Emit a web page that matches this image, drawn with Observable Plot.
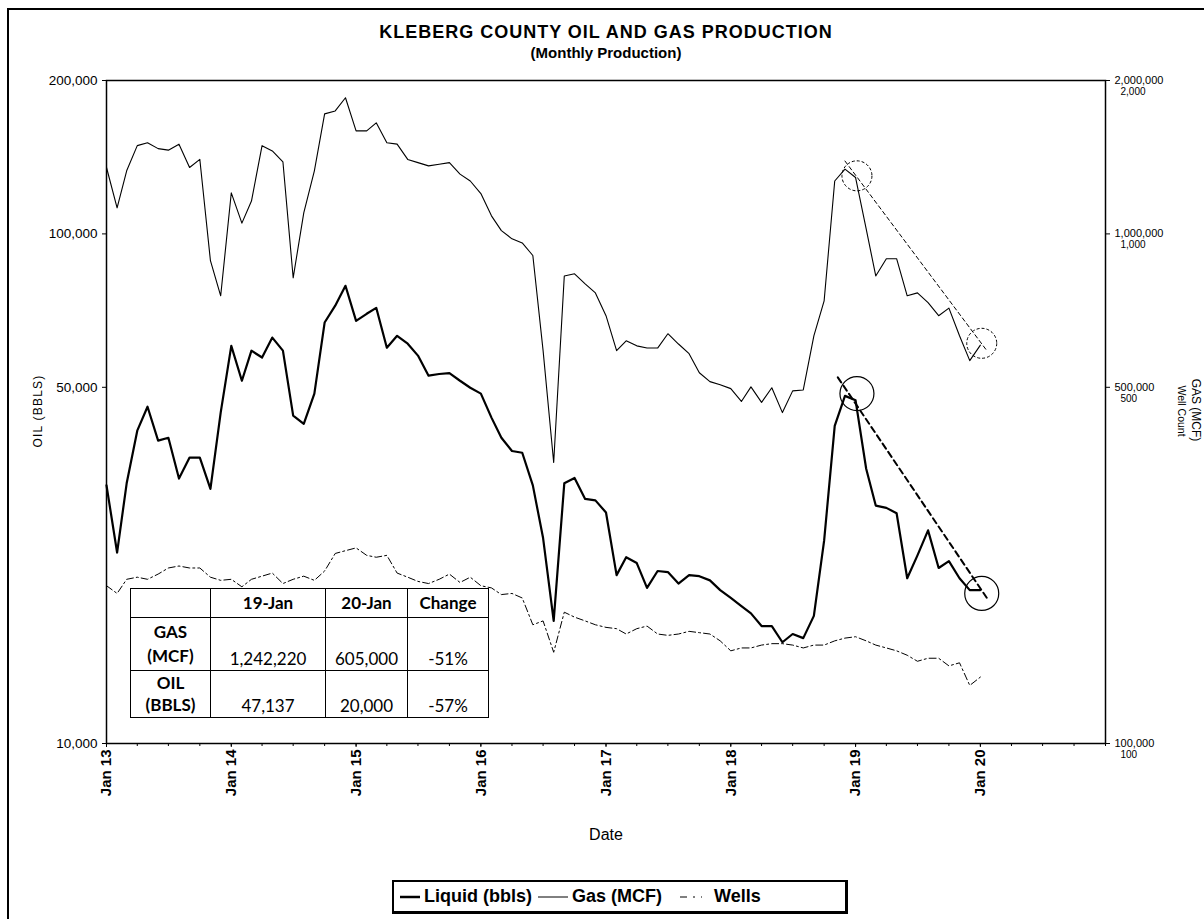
<!DOCTYPE html>
<html><head><meta charset="utf-8">
<script src="https://cdn.jsdelivr.net/npm/d3@7"></script>
<script src="https://cdn.jsdelivr.net/npm/@observablehq/plot@0.6"></script>
<style>
body{margin:0;background:#fff;font-family:"Liberation Sans",Arial,sans-serif;color:#000;}
#wrap{position:relative;width:1204px;height:919px;overflow:hidden;background:#fff;}
#border{position:absolute;left:7px;top:8px;width:1230px;height:960px;border:2px solid #000;box-sizing:border-box;}
#chart{position:absolute;left:0;top:0;}
.t1{position:absolute;left:106px;width:1000px;top:22px;text-align:center;font-weight:bold;font-size:18px;letter-spacing:1px;}
.t2{position:absolute;left:106px;width:1000px;top:44px;text-align:center;font-weight:bold;font-size:15px;}
.ylab{position:absolute;white-space:nowrap;transform-origin:center center;}
#tbl{position:absolute;left:130px;top:588px;border-collapse:collapse;background:#fff;font-family:Lato,"Open Sans",sans-serif;font-size:17px;}
#tbl td{border:1.5px solid #000;text-align:center;padding:0 2px;line-height:22px;}
#tbl td.v{vertical-align:bottom;}
#tbl .h td{font-weight:bold;height:28px;}
#legend{position:absolute;left:392px;top:880px;height:34px;width:456px;border:2px solid #000;border-right-width:3px;border-bottom-width:3px;box-sizing:border-box;display:flex;align-items:center;font-weight:bold;font-size:18px;padding-left:6px;}
#legend span{display:inline-flex;align-items:center;margin-right:6px;}
#legend svg{margin-right:4px;}
#date{position:absolute;left:106px;width:1000px;top:826px;text-align:center;font-size:16px;}
</style></head>
<body><div id="wrap">
<div id="border"></div>
<div id="chart"></div>
<div class="t1">KLEBERG COUNTY OIL AND GAS PRODUCTION</div>
<div class="t2">(Monthly Production)</div>
<div class="ylab" id="yl" style="left:-12px;top:404px;width:100px;text-align:center;font-size:12px;letter-spacing:1.2px;transform:rotate(-90deg);">OIL (BBLS)</div>
<div class="ylab" id="yr1" style="left:1148px;top:403px;width:96px;text-align:center;font-size:12px;transform:rotate(90deg);">GAS (MCF)</div>
<div class="ylab" id="yr2" style="left:1134px;top:405px;width:96px;text-align:center;font-size:10.5px;transform:rotate(90deg);">Well Count</div>
<div id="date">Date</div>
<table id="tbl"></table>
<div id="legend"></div>
</div>
<script>
// ---- data (monthly, Jan 2013 .. Jan 2020) ----
const startMonth = "2013-01-01";
const oil = [32100,23700,32400,41100,45800,39300,39800,33100,36400,36400,31600,44600,
  60300,51500,59000,57200,62600,59000,44000,42400,48600,67000,72300,79100,
  67500,69700,71600,59800,63100,60900,57700,52700,53100,53300,51500,49900,
  48600,43600,39800,37500,37200,32100,25300,17400,32400,33200,30200,30000,
  28400,21400,23200,22600,20200,21800,21700,20600,21400,21300,20900,20000,
  19300,18600,18000,17000,17000,15800,16400,16100,17800,25000,42000,48100,
  47137,34600,29300,29000,28300,21100,23400,26200,22100,22800,21100,20000,20000];
const gas = [1350000,1125000,1330000,1490000,1510000,1470000,1460000,1500000,1350000,1400000,886000,756000,
  1204000,1050000,1160000,1490000,1455000,1385000,820000,1100000,1330000,1720000,1743000,1850000,
  1593000,1593000,1652000,1510000,1500000,1400000,1380000,1360000,1370000,1380000,1310000,1270000,
  1200000,1085000,1015000,978000,960000,907000,590000,356000,827000,835000,798000,766000,
  691000,590000,617000,603000,597000,597000,637000,608000,582000,534000,513000,506000,
  497000,469000,501000,467000,499000,446000,492000,494000,631000,739000,1270000,1340000,
  1290000,1023000,827000,894000,894000,756000,766000,733000,691000,715000,631000,564000,605000];
const wells = [204,197,210,212,210,215,221,223,221,221,212,209,
  210,203,210,213,216,206,210,213,209,218,236,239,
  242,234,232,234,216,212,208,206,210,215,207,212,
  204,202,196,197,193,171,174,151,181,177,174,171,
  169,168,164,168,170,164,163,164,166,165,164,159,
  152,154,154,156,157,157,156,154,156,156,159,161,
  162,159,156,154,152,149,145,147,147,142,144,130,135];
// annotation: circles and trend lines (Jan 19 -> Jan 20)
const markDates = ["2019-01-05","2020-01-05"];
const gasCircle = [1300000, 610000];
const oilCircle = [48600, 19700];
const gasTrendDates = ["2018-12-01","2020-01-20"];
const gasTrend = [1390000, 590000];
const oilTrendDates = ["2018-11-10","2020-01-20"];
const oilTrend = [52300, 19300];
// table
const tblCols = ["19-Jan","20-Jan","Change"];
const tblGas = [1242220, 605000];
const tblOil = [47137, 20000];
const tblChange = ["-51%","-57%"];
// axes
const yearTicks = ["2013","2014","2015","2016","2017","2018","2019","2020"];
const leftTicks = [10000,50000,100000,200000];
const gasPerOil = 10;     // right axis GAS = left value x 10
const wellsPerOil = 0.01; // right axis wells = left value / 100
const legendItems = ["Liquid (bbls)","Gas (MCF)","Wells"];

const t0 = new Date(startMonth);
const rows = oil.map((v,i)=>({date: d3.utcMonth.offset(t0,i), oil: v, gas: gas[i], wells: wells[i]}));
const fmt = d3.format(",");
const P = d => new Date(d);

const plot = Plot.plot({
  width: 1204, height: 810,
  marginLeft: 106, marginRight: 99, marginTop: 80, marginBottom: 67,
  style: {fontFamily: '"Liberation Sans", Arial, sans-serif', background: "transparent", color: "#000"},
  x: {type: "utc", domain: [new Date("2013-01-01"), new Date("2021-01-01")]},
  y: {type: "log", domain: [10000, 200000]},
  marks: [
    Plot.frame({stroke: "#000", strokeWidth: 1.5}),
    Plot.axisX({ticks: d3.utcMonth.every(3), tickFormat: () => "", tickSize: 3, label: null}),
    Plot.axisX({ticks: yearTicks.map(y => new Date(y + "-01-01")), tickFormat: d3.utcFormat("Jan %y"), tickRotate: -90, tickSize: 4,
      fontSize: 15, fontWeight: "bold", label: null, tickPadding: 2}),
    Plot.axisY({ticks: leftTicks, tickFormat: fmt, tickSize: 4, fontSize: 13.5, label: null}),
    Plot.axisY({anchor: "right", ticks: leftTicks, tickFormat: d => fmt(d * gasPerOil), tickSize: 4, fontSize: 11, label: null}),
    Plot.axisY({anchor: "right", ticks: leftTicks, tickFormat: d => fmt(Math.round(d * wellsPerOil)), tickSize: 0, fontSize: 10, dy: 11, dx: 6, label: null}),
    Plot.lineY(rows, {x: "date", y: d => d.wells * 100, stroke: "#000", strokeWidth: 1, strokeDasharray: "7,3,2,3"}),
    Plot.lineY(rows, {x: "date", y: d => d.gas / gasPerOil, stroke: "#000", strokeWidth: 1.1}),
    Plot.lineY(rows, {x: "date", y: "oil", stroke: "#000", strokeWidth: 2.2}),
    Plot.line(gasTrendDates.map((d,i)=>({d: P(d), v: gasTrend[i] / gasPerOil})), {x: "d", y: "v", stroke: "#000", strokeWidth: 1, strokeDasharray: "4,3"}),
    Plot.line(oilTrendDates.map((d,i)=>({d: P(d), v: oilTrend[i]})), {x: "d", y: "v", stroke: "#000", strokeWidth: 2, strokeDasharray: "6,4"}),
    Plot.dot(markDates.map((d,i)=>({d: P(d), v: gasCircle[i] / gasPerOil})), {x: "d", y: "v", r: 15, stroke: "#000", strokeWidth: 1, strokeDasharray: "3,2", fill: "none"}),
    Plot.dot(markDates.map((d,i)=>({d: P(d), v: oilCircle[i]})), {x: "d", y: "v", r: 17, stroke: "#000", strokeWidth: 1.2, fill: "none"})
  ]
});
document.getElementById("chart").appendChild(plot);

// table
const tbl = document.getElementById("tbl");
const widths = [80,115,82,81];
let html = '<tr class="h"><td style="width:'+(widths[0]-5)+'px"></td>' + tblCols.map((c,i)=>'<td style="width:'+(widths[i+1]-5)+'px">'+c+'</td>').join('') + '</tr>';
html += '<tr><td style="font-weight:bold;height:52px;line-height:24px">GAS<br>(MCF)</td><td class="v">'+fmt(tblGas[0])+'</td><td class="v">'+fmt(tblGas[1])+'</td><td class="v">'+tblChange[0]+'</td></tr>';
html += '<tr><td style="font-weight:bold;height:46px;line-height:22px">OIL<br>(BBLS)</td><td class="v">'+fmt(tblOil[0])+'</td><td class="v">'+fmt(tblOil[1])+'</td><td class="v">'+tblChange[1]+'</td></tr>';
tbl.innerHTML = html;

// legend
const samples = [
  '<svg width="20" height="10"><line x1="0" y1="5" x2="20" y2="5" stroke="#000" stroke-width="2.5"/></svg>',
  '<svg width="30" height="10"><line x1="0" y1="5" x2="30" y2="5" stroke="#000" stroke-width="1"/></svg>',
  '<svg width="22" height="10" style="margin-left:12px;margin-right:12px"><line x1="0" y1="5" x2="22" y2="5" stroke="#000" stroke-width="1" stroke-dasharray="7,6,2,6"/></svg>'
];
document.getElementById("legend").innerHTML = legendItems.map((t,i)=>'<span>'+samples[i]+t+'</span>').join('');
</script>
</body></html>
